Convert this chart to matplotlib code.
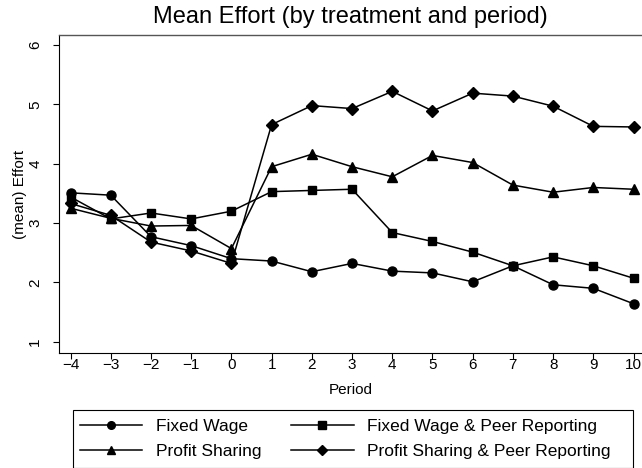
import numpy as np
import matplotlib.pyplot as plt
from matplotlib.patches import Rectangle

plt.rcParams['font.family'] = ['Liberation Sans', 'DejaVu Sans']

period = [-4, -3, -2, -1, 0, 1, 2, 3, 4, 5, 6, 7, 8, 9, 10]

fixed_wage = [3.51, 3.47, 2.77, 2.62, 2.40, 2.36, 2.18, 2.32, 2.19, 2.16, 2.01, 2.28, 1.96, 1.90, 1.64]
fixed_wage_peer = [3.44, 3.07, 3.17, 3.07, 3.20, 3.53, 3.55, 3.57, 2.84, 2.69, 2.51, 2.28, 2.43, 2.28, 2.07]
profit_sharing = [3.25, 3.08, 2.95, 2.96, 2.57, 3.95, 4.16, 3.95, 3.78, 4.14, 4.02, 3.64, 3.52, 3.60, 3.57]
profit_sharing_peer = [3.33, 3.13, 2.68, 2.53, 2.32, 4.66, 4.98, 4.93, 5.22, 4.89, 5.19, 5.14, 4.97, 4.63, 4.62]

series = [
    ("Fixed Wage", fixed_wage, 'o', 6.5),
    ("Fixed Wage & Peer Reporting", fixed_wage_peer, 's', 6.3),
    ("Profit Sharing", profit_sharing, '^', 7.0),
    ("Profit Sharing & Peer Reporting", profit_sharing_peer, 'D', 6.5),
]

W, H = 642, 468
fig = plt.figure(figsize=(W / 100, H / 100), dpi=100)
ax_l, ax_t, ax_b = 59.3, 35, 353
ax = fig.add_axes([ax_l / W, 1 - ax_b / H, 1 - ax_l / W, (ax_b - ax_t) / H])

handles = {}
for name, vals, mk, ms in series:
    h, = ax.plot(period, vals, color='black', lw=1.1, marker=mk, ms=ms, label=name)
    handles[name] = h

ax.set_xlim(-4.28, 10.21)
ax.set_ylim(0.81, 6.17)
ax.set_xticks(period)
ax.set_yticks([1, 2, 3, 4, 5, 6])
ax.tick_params(axis='both', direction='out', length=4.3, width=0.8, labelsize=11)
ax.tick_params(axis='x', pad=-0.5)
ax.tick_params(axis='y', pad=8)
for lab in ax.get_yticklabels():
    lab.set_rotation(90)
    lab.set_va('center')

ax.spines['right'].set_visible(False)
ax.spines['top'].set_color('#555555')
ax.spines['top'].set_linewidth(1.0)

ax.set_xlabel('Period', fontsize=11, labelpad=7.5)
ax.set_ylabel('(mean) Effort', fontsize=11, labelpad=1)
fig.text((ax_l + W) / 2 / W, 1 - 16.7 / H, 'Mean Effort (by treatment and period)',
         fontsize=17, ha='center', va='center')

# legend, filled column-wise so rows read across like the original
order = ["Fixed Wage", "Profit Sharing", "Fixed Wage & Peer Reporting",
         "Profit Sharing & Peer Reporting"]
leg = fig.legend([handles[n] for n in order], order, ncol=2, loc='upper left',
                 bbox_to_anchor=(72.7 / W, 1 - 411.5 / H), fontsize=12.5,
                 frameon=False, handlelength=3.6, handletextpad=0.8,
                 columnspacing=1.7, borderpad=0.4, labelspacing=0.58,
                 borderaxespad=0)
for lh in leg.legend_handles:
    lh.set_markersize(5.5)
fig.patches.append(Rectangle((72.7 / W, 1 - 467.7 / H), (632.7 - 72.7) / W, (467.7 - 410) / H,
                             transform=fig.transFigure, fill=False, edgecolor='black',
                             lw=0.8))

fig.savefig('out.png', dpi=100)
